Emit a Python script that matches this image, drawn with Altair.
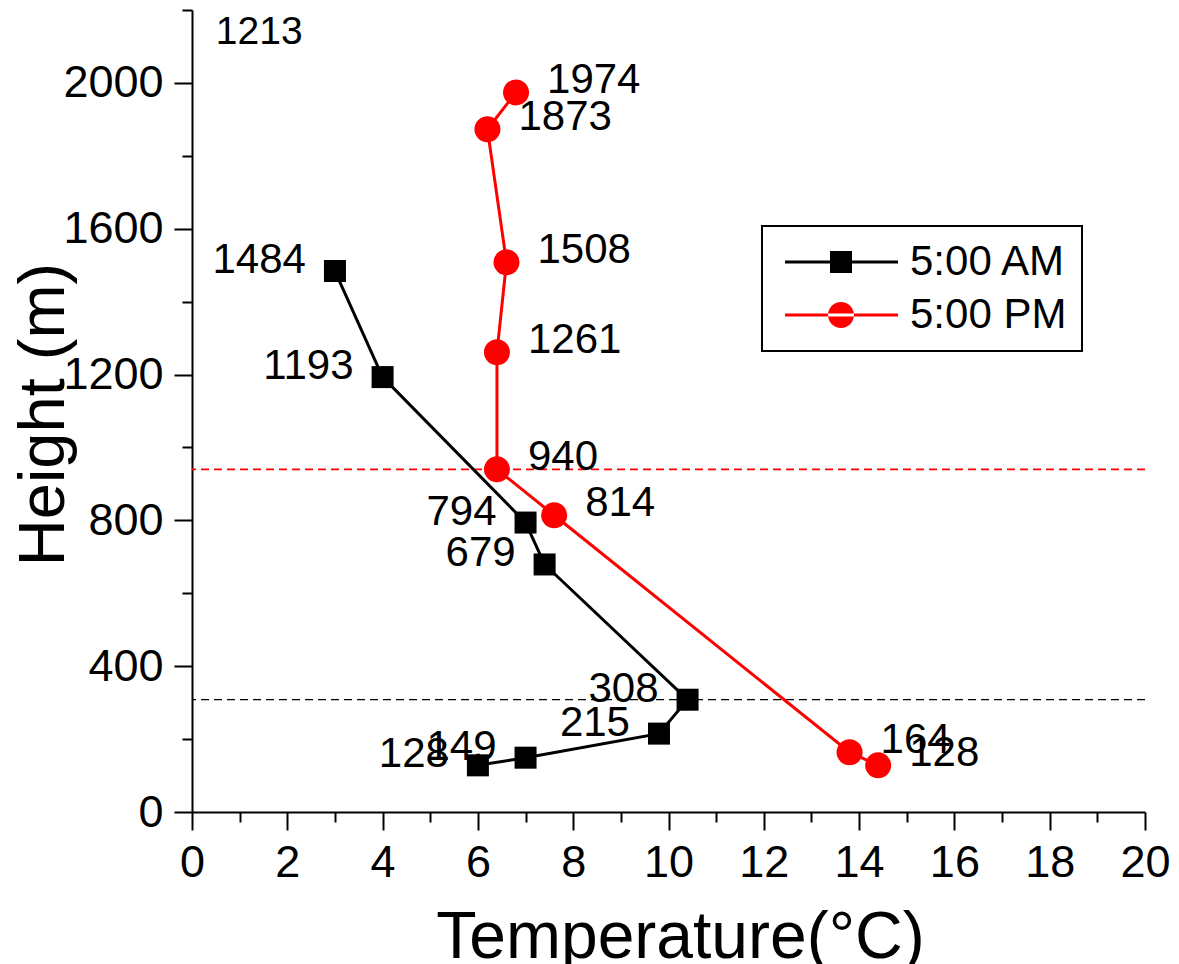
import altair as alt
import pandas as pd

# ---------------- data ----------------
am_temp = [3.0, 4.0, 7.0, 7.4, 10.4, 9.8, 7.0, 6.0]
am_height = [1484, 1193, 794, 679, 308, 215, 149, 128]
pm_temp = [6.8, 6.2, 6.6, 6.4, 6.4, 7.6, 13.8, 14.4]
pm_height = [1974, 1873, 1508, 1261, 940, 814, 164, 128]

series_names = ["5:00 AM", "5:00 PM"]
series_colors = ["#000000", "#ff0000"]

# dashed reference lines (inversion heights), one per series
ref_heights = [308, 940]

# stray annotation in the top-left corner
note_temp = [0.5]
note_height = [2140]
note_text = ["1213"]

x_major = [0, 2, 4, 6, 8, 10, 12, 14, 16, 18, 20]
x_minor = [1, 3, 5, 7, 9, 11, 13, 15, 17, 19]
y_major = [0, 400, 800, 1200, 1600, 2000]
y_minor = [200, 600, 1000, 1400, 1800, 2200]

FONT = "Liberation Sans"

am = pd.DataFrame({"Temperature": am_temp, "Height": am_height,
                   "Series": series_names[0], "Label": [str(h) for h in am_height]})
pm = pd.DataFrame({"Temperature": pm_temp, "Height": pm_height,
                   "Series": series_names[1], "Label": [str(h) for h in pm_height]})
both = pd.concat([am, pm], ignore_index=True)
notes = pd.DataFrame({"Temperature": note_temp, "Height": note_height, "Label": note_text})

xs = alt.Scale(domain=[0, 20], nice=False, zero=False)
ys = alt.Scale(domain=[0, 2200], nice=False, zero=False)


def X(axis=None):
    if axis is None:
        return alt.X("Temperature:Q", scale=xs, axis=None)
    return alt.X("Temperature:Q", scale=xs, axis=axis)


def Y(axis=None):
    if axis is None:
        return alt.Y("Height:Q", scale=ys, axis=None)
    return alt.Y("Height:Q", scale=ys, axis=axis)


x_axis_major = alt.Axis(values=x_major, orient="bottom", tickSize=18, tickWidth=2,
                        domainWidth=2, labelFontSize=45, labelPadding=10, format="d",
                        labelFlush=False, labelOverlap=False, grid=False,
                        title="Temperature(°C)", titleFontSize=66, titleFontWeight="normal",
                        titleX=488, titleY=145, titleBaseline="alphabetic", titleAlign="center")
x_axis_minor = alt.Axis(values=x_minor, orient="bottom", tickSize=10, tickWidth=2,
                        labels=False, domain=False, grid=False, title="")
y_axis_major = alt.Axis(values=y_major, orient="left", tickSize=18, tickWidth=2,
                        domainWidth=2, labelFontSize=45, labelPadding=11, format="d",
                        labelFlush=False, labelOverlap=False, grid=False,
                        title="Height (m)", titleFontSize=65, titleFontWeight="normal",
                        titleX=-129, titleY=404, titleAngle=270,
                        titleBaseline="alphabetic", titleAlign="center")
y_axis_minor = alt.Axis(values=y_minor, orient="left", tickSize=10, tickWidth=2,
                        labels=False, domain=False, grid=False, title="")

layers = []

# dashed reference lines
for h, color, w in zip(ref_heights, series_colors, [1.2, 1.6]):
    layers.append(
        alt.Chart(pd.DataFrame({"Height": [h]}))
        .mark_rule(color=color, strokeDash=[8, 5], strokeWidth=w, opacity=1)
        .encode(y=Y())
    )

# lines
layers.append(
    alt.Chart(am).mark_line(color=series_colors[0], strokeWidth=3)
    .encode(x=X(x_axis_major), y=Y(y_axis_major), order=alt.Order("Height:Q"))
)
layers.append(
    alt.Chart(pm).mark_line(color=series_colors[1], strokeWidth=3)
    .encode(x=X(x_axis_minor), y=Y(y_axis_minor), order=alt.Order("Height:Q"))
)

# markers
layers.append(
    alt.Chart(am).mark_point(shape="square", filled=True, size=484, opacity=1,
                             color=series_colors[0])
    .encode(x=X(), y=Y())
)
layers.append(
    alt.Chart(pm).mark_point(shape="circle", filled=True, size=676, opacity=1,
                             color=series_colors[1])
    .encode(x=X(), y=Y())
)

# value labels
layers.append(
    alt.Chart(am).mark_text(align="right", baseline="middle", dx=-29, dy=-11,
                            fontSize=42, font=FONT, color="black")
    .encode(x=X(), y=Y(), text="Label:N")
)
layers.append(
    alt.Chart(pm).mark_text(align="left", baseline="middle", dx=31, dy=-12,
                            fontSize=42, font=FONT, color="black")
    .encode(x=X(), y=Y(), text="Label:N")
)
layers.append(
    alt.Chart(notes).mark_text(align="left", baseline="middle",
                               fontSize=39, font=FONT, color="black")
    .encode(x=X(), y=Y(), text="Label:N")
)

# legend (invisible marks, custom line+marker symbols)
path_am = "M-0.65,-0.075H5V0.075H-0.65Z M1.6,-0.55H2.7V0.55H1.6Z"
path_pm = ("M-0.65,-0.07H5V0.07H-0.65Z "
           "M1.5,0A0.65,0.65 0 1,0 2.8,0A0.65,0.65 0 1,0 1.5,0Z")
leg = alt.Legend(title=None, orient="none", legendX=570, legendY=216,
                 symbolSize=1600, symbolStrokeWidth=0, symbolOpacity=1,
                 labelFontSize=42, labelFont=FONT, labelColor="black",
                 labelOffset=91, rowPadding=11, padding=15, labelLimit=400,
                 strokeColor="black", cornerRadius=0)
layers.append(
    alt.Chart(both).mark_point(filled=True, opacity=0)
    .encode(
        x=X(), y=Y(),
        color=alt.Color("Series:N", scale=alt.Scale(domain=series_names, range=series_colors),
                        legend=leg),
        shape=alt.Shape("Series:N", scale=alt.Scale(domain=series_names, range=[path_am, path_pm]),
                        legend=leg),
    )
)

chart = (
    alt.layer(*layers)
    .resolve_axis(x="independent", y="independent")
    .properties(width=953, height=802,
                autosize=alt.AutoSizeParams(type="none"),
                padding={"left": 192, "top": 10, "right": 34, "bottom": 152})
    .configure_view(stroke=None)
    .configure_axis(labelFont=FONT, titleFont=FONT, domainColor="black", tickColor="black",
                    labelColor="black", titleColor="black")
    .configure_legend(strokeWidth=2)
)

chart.save("out.html", embed_options={"renderer": "svg", "actions": False})
